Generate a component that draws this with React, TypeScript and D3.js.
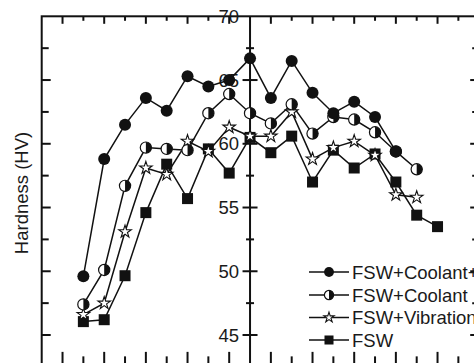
import { useEffect, useRef } from "react";
import * as d3 from "d3";

// distance from weld centre (one tick = one step), hardness
const positions = [-8, -7, -6, -5, -4, -3, -2, -1, 0, 1, 2, 3, 4, 5, 6, 7, 8, 9];
const coolantVibration = [49.6, 58.8, 61.5, 63.6, 62.6, 65.3, 64.5, 65.0, 66.7, 63.6, 66.5, 64.0, 62.4, 63.3, 62.1, 59.4];
const coolant = [47.4, 50.1, 56.7, 59.7, 59.6, 59.5, 62.4, 63.9, 62.4, 61.6, 63.1, 60.8, 62.1, 61.9, 60.9, 59.4, 58.0];
const vibration = [46.6, 47.5, 53.1, 58.1, 57.6, 60.2, 59.4, 61.3, 60.6, 60.6, 62.5, 58.8, 59.7, 60.2, 59.1, 56.0, 55.8];
const fsw = [46.05, 46.2, 49.65, 54.6, 58.4, 55.7, 59.6, 57.7, 60.5, 59.3, 60.6, 57.0, 59.5, 58.1, 59.2, 57.0, 54.4, 53.5];

const seriesNames = ["FSW+Coolant+Vibration", "FSW+Coolant", "FSW+Vibration", "FSW"];
const hardnessTicks = [45, 50, 55, 60, 65, 70];
const yTitle = "Hardness (HV)";

type Marker = "circle" | "half" | "star" | "square";

export default function App() {
  const svgRef = useRef<SVGSVGElement>(null);

  useEffect(() => {
    if (!svgRef.current) return;
    const svg = d3.select(svgRef.current);
    svg.selectAll("*").remove();

    const ink = "#111";
    const font = "'Liberation Sans', Arial, sans-serif";

    // scales (the picture is cropped: right and bottom axes fall just outside)
    const x = d3.scaleLinear().domain([-10, 11]).range([41.7, 479.2]);
    const y = d3.scaleLinear().domain([45, 70]).range([335, 16.3]);
    const yBottom = y(42.5);
    const cx = x(0);

    // frame
    svg
      .append("rect")
      .attr("x", x(-10))
      .attr("y", y(70))
      .attr("width", x(11) - x(-10))
      .attr("height", yBottom - y(70))
      .attr("fill", "none")
      .attr("stroke", ink)
      .attr("stroke-width", 2);

    // top / bottom ticks
    const xTicks = d3.range(-9, 11).filter((k) => k !== 0);
    const g = svg.append("g").attr("stroke", ink).attr("stroke-width", 2);
    xTicks.forEach((k) => {
      const major = Math.abs(k) % 2 === 1;
      g.append("line")
        .attr("x1", x(k)).attr("x2", x(k))
        .attr("y1", y(70)).attr("y2", y(70) + (major ? 7.5 : 4.5));
      g.append("line")
        .attr("x1", x(k)).attr("x2", x(k))
        .attr("y1", yBottom).attr("y2", yBottom - (major ? 15 : 10.5));
    });

    // left / right / centre ticks
    const yTicks = d3.range(42.5, 70, 2.5);
    yTicks.forEach((v) => {
      const major = v % 5 === 0;
      g.append("line")
        .attr("x1", x(-10)).attr("x2", x(-10) + (major ? 9 : 7))
        .attr("y1", y(v)).attr("y2", y(v));
      g.append("line")
        .attr("x1", x(11)).attr("x2", x(11) - (major ? 9 : 7))
        .attr("y1", y(v)).attr("y2", y(v));
      const half = major ? 7.5 : 4;
      g.append("line")
        .attr("x1", cx - half).attr("x2", cx + half)
        .attr("y1", y(v)).attr("y2", y(v));
    });

    // centre axis
    g.append("line")
      .attr("x1", cx).attr("x2", cx)
      .attr("y1", y(70)).attr("y2", yBottom);

    // centre axis labels
    svg
      .append("g")
      .selectAll("text")
      .data(hardnessTicks)
      .join("text")
      .attr("x", cx - 11)
      .attr("y", (d) => y(d))
      .attr("dy", "0.36em")
      .attr("text-anchor", "end")
      .attr("font-family", font)
      .attr("font-size", 18.5)
      .attr("fill", "#1a1a1a")
      .text((d) => d);

    // y title
    svg
      .append("text")
      .attr("transform", "translate(28,193) rotate(-90)")
      .attr("text-anchor", "middle")
      .attr("font-family", font)
      .attr("font-size", 18.5)
      .attr("fill", "#1a1a1a")
      .text(yTitle);

    const drawMarker = (
      sel: d3.Selection<SVGGElement, unknown, null, undefined>,
      type: Marker,
      scale: number,
    ) => {
      if (type === "circle") {
        sel.append("circle").attr("r", 6 * scale).attr("fill", ink);
      } else if (type === "half") {
        const r = 5.6 * scale;
        sel.append("circle").attr("r", r).attr("fill", "#fff").attr("stroke", ink).attr("stroke-width", 1.2);
        sel.append("path").attr("d", `M0,${-r}A${r},${r} 0 0 1 0,${r}Z`).attr("fill", ink);
      } else if (type === "star") {
        const r = 6.6 * scale;
        sel
          .append("path")
          .attr("d", d3.symbol(d3.symbolStar, (r * r) / 0.8908)())
          .attr("fill", "#fff")
          .attr("stroke", ink)
          .attr("stroke-width", 1.1);
      } else {
        const s = 11 * scale;
        sel.append("path").attr("d", d3.symbol(d3.symbolSquare, s * s)()).attr("fill", ink);
      }
    };

    const series: { values: number[]; marker: Marker }[] = [
      { values: coolantVibration, marker: "circle" },
      { values: coolant, marker: "half" },
      { values: vibration, marker: "star" },
      { values: fsw, marker: "square" },
    ];

    const line = d3
      .line<number>()
      .x((_, i) => x(positions[i]))
      .y((d) => y(d));

    const plot = svg.append("g");
    [...series].reverse().forEach((s) => {
      plot
        .append("path")
        .attr("d", line(s.values))
        .attr("fill", "none")
        .attr("stroke", ink)
        .attr("stroke-width", 1.5);
    });
    [...series].reverse().forEach((s) => {
      s.values.forEach((v, i) => {
        const m = plot.append("g").attr("transform", `translate(${x(positions[i])},${y(v)})`);
        drawMarker(m, s.marker, 1);
      });
    });

    // legend
    const legendRows = [272, 295, 317.5, 340];
    series.forEach((s, i) => {
      const row = svg.append("g").attr("transform", `translate(0,${legendRows[i]})`);
      row.append("line")
        .attr("x1", 309).attr("x2", 349)
        .attr("stroke", ink).attr("stroke-width", 1.5);
      const m = row.append("g").attr("transform", "translate(329,0)");
      drawMarker(m, s.marker, 0.82);
      row.append("text")
        .attr("x", 352)
        .attr("dy", "0.36em")
        .attr("font-family", font)
        .attr("font-size", 18.5)
        .attr("fill", "#1a1a1a")
        .text(seriesNames[i]);
    });
  }, []);

  return (
    <svg
      ref={svgRef}
      width={474}
      height={363}
      style={{ position: "fixed", left: 0, top: 0, background: "#fff" }}
    />
  );
}
